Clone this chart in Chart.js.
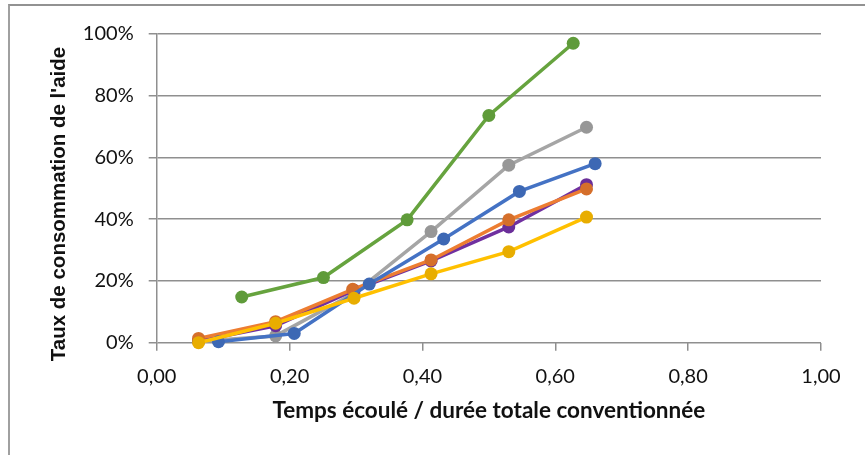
<!DOCTYPE html>
<html>
<head>
<meta charset="utf-8">
<script src="https://cdn.jsdelivr.net/npm/chart.js@4"></script>
<style>
  body { margin: 0; background: #fff; }
  #wrap { position: relative; width: 865px; height: 455px; overflow: hidden; }
  #frame { position: absolute; left: 8px; top: 4px; width: 900px; height: 500px;
           border-left: 2px solid #a0a0a0; border-top: 2px solid #929292; }
</style>
</head>
<body>
<div id="wrap">
  <div id="frame"></div>
  <canvas id="chart"></canvas>
</div>
<script>
// temps écoulé / durée totale (x) et taux de consommation en % (y)
const greenX = [0.128, 0.251, 0.377, 0.500, 0.627];
const greenY = [14.8, 21.1, 39.8, 73.6, 97.0];
const greyX = [0.063, 0.179, 0.297, 0.413, 0.530, 0.647];
const greyY = [0.5, 2.2, 16.0, 36.0, 57.5, 69.8];
const blueX = [0.093, 0.207, 0.320, 0.432, 0.546, 0.660];
const blueY = [0.3, 3.0, 19.0, 33.6, 49.0, 58.0];
const purpleX = [0.063, 0.179, 0.297, 0.413, 0.530, 0.647];
const purpleY = [0.5, 5.5, 17.0, 26.5, 37.5, 51.2];
const orangeX = [0.063, 0.179, 0.295, 0.413, 0.530, 0.647];
const orangeY = [1.4, 6.8, 17.3, 26.8, 39.8, 49.8];
const yellowX = [0.063, 0.179, 0.297, 0.413, 0.530, 0.647];
const yellowY = [0.0, 6.3, 14.4, 22.3, 29.5, 40.7];

const xTicks = [0, 0.2, 0.4, 0.6, 0.8, 1.0];
const yTicks = [0, 20, 40, 60, 80, 100];

const xTitle = 'Temps écoulé / durée totale conventionnée';
const yTitle = "Taux de consommation de l'aide";

const gridColor = '#8f8f8f';

function pts(xs, ys) {
    return xs.map((x, i) => ({ x: x, y: ys[i] }));
}

function serie(label, xs, ys, line, marker) {
    return {
        label: label,
        data: pts(xs, ys),
        showLine: true,
        borderColor: line,
        backgroundColor: marker,
        borderWidth: 3.5,
        pointRadius: 6.5,
        pointHoverRadius: 6.5,
        pointBackgroundColor: marker,
        pointBorderColor: marker,
        pointBorderWidth: 0,
        tension: 0,
        clip: false
    };
}

// y title drawn by hand so it sits where the original does
const yTitlePlugin = {
    id: 'yTitle',
    afterDraw(chart) {
        const ctx = chart.ctx;
        ctx.save();
        ctx.translate(65, 204);
        ctx.rotate(-Math.PI / 2);
        ctx.font = 'bold 20.5px "Liberation Sans"';
        ctx.fillStyle = '#111';
        ctx.textAlign = 'center';
        ctx.textBaseline = 'alphabetic';
        ctx.fillText(yTitle, 0, 0);
        ctx.restore();
    }
};

const ctx = document.getElementById('chart').getContext('2d');
new Chart(ctx, {
    type: 'scatter',
    data: {
        datasets: [
            serie('Série 6', yellowX, yellowY, '#ffc000', '#e8ad00'),
            serie('Série 1', blueX, blueY, '#4472c4', '#3d68b4'),
            serie('Série 2', orangeX, orangeY, '#ed7d31', '#d56f2b'),
            serie('Série 5', purpleX, purpleY, '#7030a0', '#6a2e99'),
            serie('Série 3', greyX, greyY, '#a5a5a5', '#979797'),
            serie('Série 4', greenX, greenY, '#66a33e', '#5f9b3a')
        ]
    },
    options: {
        responsive: true,
        maintainAspectRatio: false,
        animation: false,
        layout: {
            padding: { top: 34, right: 44, left: 0, bottom: 0 }
        },
        scales: {
            x: {
                type: 'linear',
                min: 0,
                max: 1,
                afterFit: s => { s.height = 112.3; },
                afterBuildTicks: s => { s.ticks = xTicks.map(v => ({ value: v })); },
                grid: {
                    drawOnChartArea: false,
                    drawTicks: true,
                    tickLength: 8,
                    color: gridColor,
                    lineWidth: 1.5
                },
                border: { display: false },
                ticks: {
                    padding: 14,
                    color: '#111',
                    font: { family: 'Lato', size: 20 },
                    callback: v => v.toFixed(2).replace('.', ',')
                },
                title: {
                    display: true,
                    text: xTitle,
                    color: '#111',
                    font: { family: 'Lato', size: 22.5, weight: 'bold' },
                    padding: { top: 0, bottom: 31 }
                }
            },
            y: {
                min: 0,
                max: 100,
                afterFit: s => { s.width = 156.7; },
                afterBuildTicks: s => { s.ticks = yTicks.map(v => ({ value: v })); },
                grid: {
                    drawTicks: true,
                    tickLength: 8,
                    color: gridColor,
                    lineWidth: 1.5
                },
                border: { display: true, color: gridColor, width: 1.5 },
                ticks: {
                    padding: 15,
                    color: '#111',
                    font: { family: 'Lato', size: 20 },
                    callback: v => v + '%'
                }
            }
        },
        plugins: {
            legend: { display: false },
            tooltip: { enabled: false }
        }
    },
    plugins: [yTitlePlugin]
});
</script>
</body>
</html>
